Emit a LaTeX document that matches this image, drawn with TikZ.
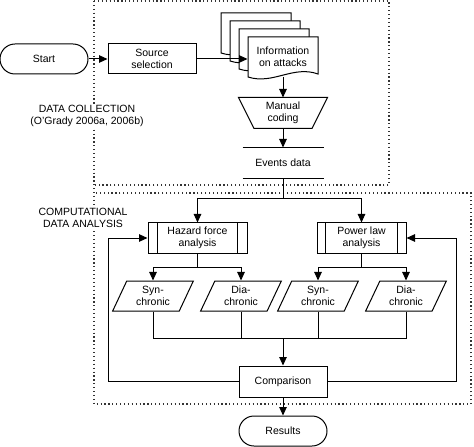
\documentclass[tikz,border=0pt]{standalone}
\usepackage{fontspec}
\setmainfont{Liberation Sans}
\usetikzlibrary{arrows.meta,shapes.geometric}
\newcommand\docshape[2]{%
  \draw[fill=white,line width=1bp] (#1,#2) -- (#1,#2+40) .. controls (#1+25,#2+48) and (#1+45,#2+28) .. (#1+70,#2+37) -- (#1+70,#2) -- cycle;}
\tikzset{
  base/.style={line width=1bp, font=\fontsize{10.5bp}{12bp}\selectfont, align=center, inner sep=0pt},
  box/.style={base, draw, rectangle, minimum height=30bp},
  pill/.style={box, rounded corners=15bp, minimum width=88bp},
  para/.style={base, draw, trapezium, trapezium left angle=65, trapezium right angle=115, trapezium stretches=true, minimum width=81bp, minimum height=30bp},
  arr/.style={line width=1bp, -{Triangle[length=8.5bp,width=7.5bp]}},
  ln/.style={line width=1bp},
  dotbox/.style={line width=1.2bp, dash pattern=on 1.2bp off 2.7bp, black!80},
  lbl/.style={base, fill=white, inner sep=1bp},
}
\begin{document}
\begin{tikzpicture}[x=1bp,y=-1bp]
\useasboundingbox (0,0) rectangle (474,447);
% dotted regions
\draw[dotbox] (94,1) -- (389,1) -- (389,185) -- (94,185);
\draw[dotbox] (94,1) -- (94,404) -- (471,404) -- (471,193) -- (94,193);
% labels
\node[lbl] (dc) at (87,115.5) {DATA COLLECTION\\(O'Grady 2006a, 2006b)};
\node[lbl] (cda) at (83,218) {COMPUTATIONAL\\DATA ANALYSIS};
% nodes
\node[pill] (start) at (44,59) {Start};
\node[box, minimum width=88bp] (src) at (152,59) {Source\\selection};
\docshape{221}{13}
\docshape{230}{21}
\docshape{239}{29}
\docshape{248}{37}
\node[base, minimum width=70bp, minimum height=40bp] (info) at (283,57) {Information\\on attacks};
\node[base, minimum width=88bp, minimum height=30bp] (man) at (283,113) {Manual\\coding};
\draw[ln] (man.north west) -- (man.north east) -- ([xshift=-15.5bp]man.south east) -- ([xshift=15.5bp]man.south west) -- cycle;
\node[base, minimum width=80bp, minimum height=30bp] (ev) at (283,163) {Events data};
\draw[ln] (ev.north west) -- (ev.north east);
\draw[ln] (ev.south west) -- (ev.south east);
\node[box, minimum width=99bp] (hz) at (197.5,238) {Hazard force\\analysis};
\draw[ln] ([xshift=10bp]hz.north west) -- ([xshift=10bp]hz.south west);
\draw[ln] ([xshift=-10bp]hz.north east) -- ([xshift=-10bp]hz.south east);
\node[box, minimum width=89bp] (pw) at (361.5,238) {Power law\\analysis};
\draw[ln] ([xshift=9bp]pw.north west) -- ([xshift=9bp]pw.south west);
\draw[ln] ([xshift=-9bp]pw.north east) -- ([xshift=-9bp]pw.south east);
\node[para] (s1) at (153,296) {Syn-\\chronic};
\node[para] (d1) at (241,296) {Dia-\\chronic};
\node[para] (s2) at (318,296) {Syn-\\chronic};
\node[para] (d2) at (406,296) {Dia-\\chronic};
\node[box, minimum width=88bp, minimum height=31bp] (comp) at (283,381.5) {Comparison};
\node[pill] (res) at (283,431) {Results};
% connectors
\draw[arr] (start) -- (src);
\draw[arr] (src.east) -- (src.east -| info.west);
\draw[arr] (info.south) -- (man.north);
\draw[arr] (man.south) -- (ev.north);
\coordinate (j1) at (283,199);
\draw[ln] (ev.south) -- (j1);
\draw[arr] (j1) -| (hz.north);
\draw[arr] (j1) -| (pw.north);
\coordinate (j2) at (197.5,267);
\draw[ln] (hz.south) -- (j2);
\draw[arr] (j2) -| (s1.north);
\draw[arr] (j2) -| (d1.north);
\coordinate (j3) at (361.5,267);
\draw[ln] (pw.south) -- (j3);
\draw[arr] (j3) -| (s2.north);
\draw[arr] (j3) -| (d2.north);
\coordinate (j4) at (283,338);
\draw[ln] (s1.south) |- (j4);
\draw[ln] (d2.south) |- (j4);
\draw[ln] (d1.south) -- (d1.south |- j4);
\draw[ln] (s2.south) -- (s2.south |- j4);
\draw[arr] (j4) -- (comp.north);
\coordinate (fl) at (108,381.5);
\coordinate (fr) at (456,381.5);
\draw[arr] (comp.west) -- (fl) |- (hz.west);
\draw[arr] (comp.east) -- (fr) |- (pw.east);
\draw[arr] (comp.south) -- (res.north);
\end{tikzpicture}
\end{document}
